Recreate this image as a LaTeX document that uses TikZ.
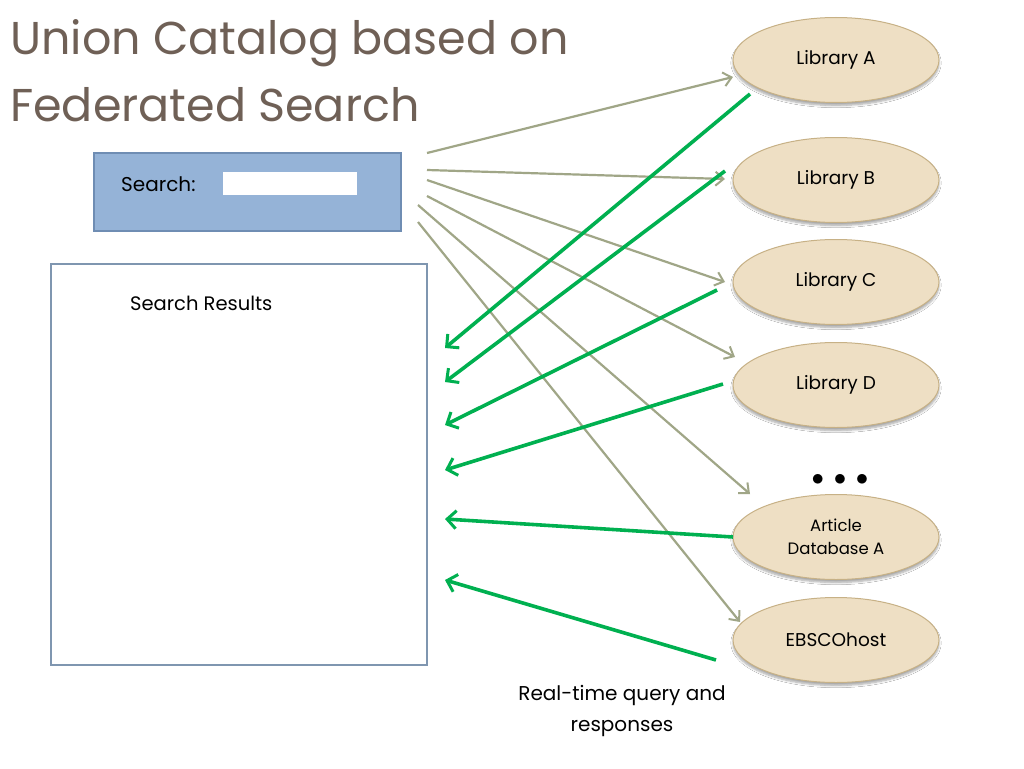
\documentclass[tikz,border=0pt]{standalone}
\usepackage{fontspec}
\setmainfont{Poppins}
\usetikzlibrary{arrows.meta,shapes.geometric,shadows.blur}
\definecolor{titlec}{HTML}{6F6056}
\definecolor{searchfill}{HTML}{95B3D7}
\definecolor{searchdraw}{HTML}{6F8DB3}
\definecolor{resdraw}{HTML}{7F96B0}
\definecolor{tanfill}{HTML}{EEDFC4}
\definecolor{tandraw}{HTML}{C7B186}
\definecolor{olive}{HTML}{A0A687}
\definecolor{grn}{HTML}{00B050}
\tikzset{
  lib/.style={ellipse, draw=tandraw, fill=tanfill, line width=1pt, minimum width=206pt, minimum height=85pt, inner sep=0pt, align=center, font=\fontsize{18.5}{24}\selectfont, blur shadow={shadow xshift=0pt, shadow yshift=-3pt, shadow blur steps=6, shadow opacity=35}},
  query/.style={draw=olive, line width=2.2pt, -{Straight Barb[length=8pt,width=14pt,line width=2pt]}},
  reply/.style={draw=grn, line width=3.6pt, -{Straight Barb[length=9pt,width=18pt,line width=3pt]}},
  lbl/.style={inner sep=0pt, anchor=base west}
}
\begin{document}
\begin{tikzpicture}[x=1pt,y=-1pt]
\useasboundingbox[fill=white] (0,0) rectangle (1024,768);
% title
\node[lbl, text=titlec, font=\fontsize{46}{52}\selectfont] (t1) at (10,55) {Union Catalog based on};
\node[lbl, text=titlec, font=\fontsize{46}{52}\selectfont] (t2) at (10,121) {Federated Search};
% search box
\node[draw=searchdraw, fill=searchfill, line width=1.2pt, minimum width=307pt, minimum height=78pt, inner sep=0pt] (search) at (247.5,192) {};
\node[lbl, font=\fontsize{20}{24}\selectfont] (slabel) at (121,191) {Search:};
\node[fill=white, minimum width=134pt, minimum height=23pt, inner sep=0pt] (sfield) at (290,183.5) {};
% results box
\node[draw=resdraw, fill=white, line width=1.2pt, minimum width=376pt, minimum height=401pt, inner sep=0pt] (results) at (239,464.5) {};
\node[lbl, font=\fontsize{19.5}{24}\selectfont] (rlabel) at (130,310) {Search Results};
% sources
\node[lib] (la) at (836,60) {Library A};
\node[lib] (lb) at (836,180) {Library B};
\node[lib] (lc) at (836,282) {Library C};
\node[lib] (ld) at (836,385) {Library D};
\node[lib, font=\fontsize{16.5}{23}\selectfont] (adb) at (836,537) {Article\\Database A};
\node[lib] (ebsco) at (836,640) {EBSCOhost};
\node[font=\fontsize{28}{28}\selectfont, inner sep=0pt] (dots) at (840,480) {$\bullet\,\bullet\,\bullet$};
\node[align=center, font=\fontsize{20}{31}\selectfont, inner sep=0pt] (note) at (622,711) {Real-time query and\\responses};
% query ends
\coordinate (q1s) at (427,153); \coordinate (q1e) at (733,77);
\coordinate (q2s) at (427,170); \coordinate (q2e) at (725,179);
\coordinate (q3s) at (427,180); \coordinate (q3e) at (725,282);
\coordinate (q4s) at (427,196); \coordinate (q4e) at (735,357);
\coordinate (q5s) at (418,205); \coordinate (q5e) at (750,494);
\coordinate (q6s) at (418,222); \coordinate (q6e) at (740,622);
\draw[query] (q1s) -- (q1e);
\draw[query] (q2s) -- (q2e);
\draw[query] (q3s) -- (q3e);
\draw[query] (q4s) -- (q4e);
\draw[query] (q5s) -- (q5e);
\draw[query] (q6s) -- (q6e);
% reply ends
\coordinate (r1s) at (750,94);  \coordinate (r1e) at (445,348);
\coordinate (r2s) at (725,171); \coordinate (r2e) at (445,382);
\coordinate (r3s) at (717,290); \coordinate (r3e) at (445,425);
\coordinate (r4s) at (723,384); \coordinate (r4e) at (445,470);
\coordinate (r5s) at (733,537); \coordinate (r5e) at (445,519);
\coordinate (r6s) at (716,660); \coordinate (r6e) at (445,580);
\draw[reply] (r1s) -- (r1e);
\draw[reply] (r2s) -- (r2e);
\draw[reply] (r3s) -- (r3e);
\draw[reply] (r4s) -- (r4e);
\draw[reply] (r5s) -- (r5e);
\draw[reply] (r6s) -- (r6e);
\end{tikzpicture}
\end{document}
